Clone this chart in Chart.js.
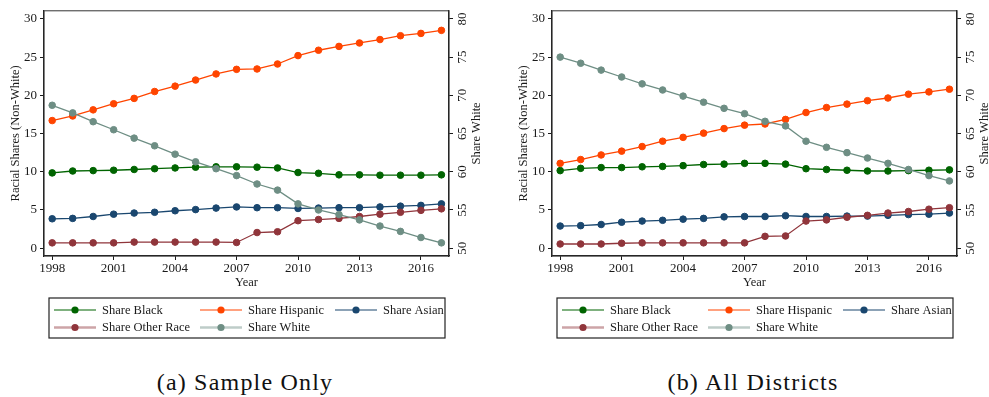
<!DOCTYPE html>
<html>
<head>
<meta charset="utf-8">
<script src="https://cdn.jsdelivr.net/npm/chart.js@4.4.1/dist/chart.umd.min.js"></script>
<style>
    body { margin: 0; background: #fff; overflow: hidden; }
    #page { position: relative; width: 989px; height: 397px; overflow: hidden; }
    .panel { position: absolute; top: 0; }
    .caption {
        position: absolute; top: 368px; width: 490px;
        font-family: "Liberation Serif", serif; font-size: 24px;
        letter-spacing: 1.2px; line-height: 28px; text-align: center; color: #111;
    }
</style>
</head>
<body>
<div id="page">
    <div class="panel" style="left:0"><canvas id="chart-a" width="490" height="345"></canvas></div>
    <div class="panel" style="left:508px"><canvas id="chart-b" width="481" height="345"></canvas></div>
    <div class="caption" style="left:0">(a) Sample Only</div>
    <div class="caption" style="left:508px">(b) All Districts</div>
</div>
<script>
// Years and tick labels
const years = [1998, 1999, 2000, 2001, 2002, 2003, 2004, 2005, 2006, 2007,
               2008, 2009, 2010, 2011, 2012, 2013, 2014, 2015, 2016, 2017];
const xTickYears = [1998, 2001, 2004, 2007, 2010, 2013, 2016];
const leftTicks = [0, 5, 10, 15, 20, 25, 30];
const rightTicks = [50, 55, 60, 65, 70, 75, 80];

const seriesNames = ['Share Black', 'Share Hispanic', 'Share Asian', 'Share Other Race', 'Share White'];
const seriesColors = ['#006400', '#ff4500', '#1a476f', '#90353b', '#6e8e84'];

// (a) Sample only
const sampleBlack = [9.85, 10.1, 10.15, 10.2, 10.3, 10.4, 10.5, 10.6, 10.65, 10.65,
                     10.6, 10.5, 9.9, 9.8, 9.6, 9.6, 9.55, 9.55, 9.55, 9.6];
const sampleHispanic = [16.7, 17.3, 18.1, 18.9, 19.6, 20.5, 21.2, 22.0, 22.8, 23.4,
                        23.45, 24.1, 25.2, 25.9, 26.4, 26.85, 27.3, 27.8, 28.1, 28.5];
const sampleAsian = [3.85, 3.9, 4.15, 4.45, 4.6, 4.7, 4.9, 5.05, 5.25, 5.4,
                     5.3, 5.3, 5.2, 5.25, 5.3, 5.3, 5.4, 5.5, 5.6, 5.8];
const sampleOther = [0.7, 0.7, 0.7, 0.7, 0.8, 0.8, 0.8, 0.8, 0.8, 0.75,
                     2.05, 2.15, 3.6, 3.75, 3.9, 4.15, 4.45, 4.7, 4.95, 5.15];
const sampleWhite = [68.7, 67.7, 66.55, 65.5, 64.4, 63.4, 62.3, 61.3, 60.4, 59.5,
                     58.4, 57.6, 55.8, 55.0, 54.4, 53.7, 52.9, 52.2, 51.4, 50.7];

// (b) All districts
const allBlack = [10.15, 10.45, 10.55, 10.55, 10.65, 10.7, 10.8, 10.95, 11.0, 11.1,
                  11.1, 11.0, 10.4, 10.3, 10.2, 10.1, 10.1, 10.15, 10.2, 10.25];
const allHispanic = [11.1, 11.6, 12.2, 12.7, 13.3, 14.0, 14.5, 15.05, 15.65, 16.1,
                     16.25, 16.85, 17.75, 18.4, 18.85, 19.3, 19.65, 20.15, 20.45, 20.8];
const allAsian = [2.9, 2.95, 3.1, 3.4, 3.55, 3.65, 3.8, 3.9, 4.1, 4.15,
                  4.15, 4.25, 4.15, 4.15, 4.2, 4.2, 4.3, 4.4, 4.45, 4.6];
const allOther = [0.55, 0.55, 0.55, 0.65, 0.7, 0.7, 0.7, 0.7, 0.7, 0.7,
                  1.55, 1.6, 3.55, 3.7, 4.05, 4.3, 4.6, 4.8, 5.1, 5.3];
const allWhite = [75.0, 74.2, 73.3, 72.4, 71.5, 70.7, 69.9, 69.1, 68.3, 67.6,
                  66.6, 66.0, 64.0, 63.2, 62.5, 61.8, 61.1, 60.3, 59.5, 58.8];

const FONT = '"Liberation Serif", "Times New Roman", serif';
const INK = '#1a1a1a';

// frame round the plot area
const frame = {
    id: 'frame',
    beforeDatasetsDraw(chart) {
        const { ctx, chartArea: a } = chart;
        ctx.save();
        ctx.strokeStyle = '#333';
        ctx.lineWidth = 1;
        ctx.strokeRect(a.left, a.top, a.right - a.left, a.bottom - a.top);
        ctx.restore();
    }
};

// right axis title, reading bottom to top
const rightTitle = {
    id: 'rightTitle',
    afterDraw(chart) {
        const { ctx, chartArea: a } = chart;
        ctx.save();
        ctx.translate(a.right + 28, (a.top + a.bottom) / 2);
        ctx.rotate(-Math.PI / 2);
        ctx.font = '12.5px ' + FONT;
        ctx.fillStyle = INK;
        ctx.textAlign = 'center';
        ctx.textBaseline = 'middle';
        ctx.fillText('Share White', 0, 0);
        ctx.restore();
    }
};

// boxed legend in Stata style
const boxLegend = {
    id: 'boxLegend',
    afterDraw(chart) {
        const { ctx, chartArea: a } = chart;
        const left = a.left + 5, top = 298, w = 396, h = 40;
        const colX = [5, 151, 286];
        const rowY = [12, 29.5];
        ctx.save();
        ctx.strokeStyle = '#222';
        ctx.lineWidth = 1.2;
        ctx.strokeRect(left, top, w, h);
        ctx.font = '12.5px ' + FONT;
        ctx.textBaseline = 'middle';
        chart.data.datasets.forEach((ds, i) => {
            const x = left + colX[i % 3];
            const y = top + rowY[Math.floor(i / 3)];
            ctx.strokeStyle = ds.borderColor;
            ctx.globalAlpha = ds.legendFaded ? 0.45 : 1;
            ctx.lineWidth = ds.legendFaded ? 2.6 : 1.2;
            ctx.beginPath();
            ctx.moveTo(x, y);
            ctx.lineTo(x + 42, y);
            ctx.stroke();
            ctx.globalAlpha = 1;
            ctx.fillStyle = ds.borderColor;
            ctx.beginPath();
            ctx.arc(x + 21, y, 3.6, 0, Math.PI * 2);
            ctx.fill();
            ctx.fillStyle = INK;
            ctx.fillText(ds.label, x + 48, y + 0.5);
        });
        ctx.restore();
    }
};

function toPoints(values) {
    return years.map((yr, i) => ({ x: yr, y: values[i] }));
}

function buildDatasets(series) {
    return series.map((values, i) => ({
        label: seriesNames[i],
        data: toPoints(values),
        yAxisID: i === 4 ? 'y2' : 'y',
        borderColor: seriesColors[i],
        backgroundColor: seriesColors[i],
        borderWidth: 1.3,
        pointRadius: 3.3,
        pointBorderWidth: 1,
        tension: 0,
        order: 5 - i,
        legendFaded: i >= 3
    }));
}

function axisGrid() {
    return { drawOnChartArea: false, drawTicks: true, tickLength: 4, color: INK, lineWidth: 1 };
}

function makeChart(canvasId, series) {
    const canvas = document.getElementById(canvasId);
    const width = canvas.width;
    const font = { family: FONT, size: 13 };

    return new Chart(canvas, {
        type: 'line',
        data: { datasets: buildDatasets(series) },
        options: {
            responsive: false,
            animation: false,
            layout: { padding: { top: 5, bottom: 55, left: 0, right: 0 } },
            plugins: { legend: { display: false }, tooltip: { enabled: false } },
            scales: {
                x: {
                    type: 'linear',
                    min: 1997.6,
                    max: 2017.37,
                    afterBuildTicks: s => { s.ticks = xTickYears.map(v => ({ value: v })); },
                    afterFit: s => { s.height = 34; },
                    grid: axisGrid(),
                    border: { color: INK, width: 1.2 },
                    ticks: { font, color: INK, padding: 1, maxRotation: 0, callback: v => String(v) },
                    title: { display: true, text: 'Year', font: { family: FONT, size: 12.5 }, color: INK, padding: 0 }
                },
                y: {
                    position: 'left',
                    min: -1.02,
                    max: 31.06,
                    afterBuildTicks: s => { s.ticks = leftTicks.map(v => ({ value: v })); },
                    afterFit: s => { s.width = 44; },
                    grid: axisGrid(),
                    border: { color: INK, width: 1.2 },
                    ticks: { font, color: INK, padding: 3, callback: v => String(v) },
                    title: {
                        display: true, text: 'Racial Shares (Non-White)',
                        font: { family: FONT, size: 12.5 }, color: INK, padding: { top: 8, bottom: 0 }
                    }
                },
                y2: {
                    position: 'right',
                    min: 48.98,
                    max: 81.06,
                    afterBuildTicks: s => { s.ticks = rightTicks.map(v => ({ value: v })); },
                    afterFit: s => { s.width = width - 449; },
                    grid: axisGrid(),
                    border: { color: INK, width: 1.2 },
                    ticks: {
                        font, color: INK, padding: 3, minRotation: 90, maxRotation: 90,
                        crossAlign: 'center', callback: v => String(v)
                    }
                }
            }
        },
        plugins: [frame, rightTitle, boxLegend]
    });
}

document.addEventListener('DOMContentLoaded', () => {
    makeChart('chart-a', [sampleBlack, sampleHispanic, sampleAsian, sampleOther, sampleWhite]);
    makeChart('chart-b', [allBlack, allHispanic, allAsian, allOther, allWhite]);
});
</script>
</body>
</html>
